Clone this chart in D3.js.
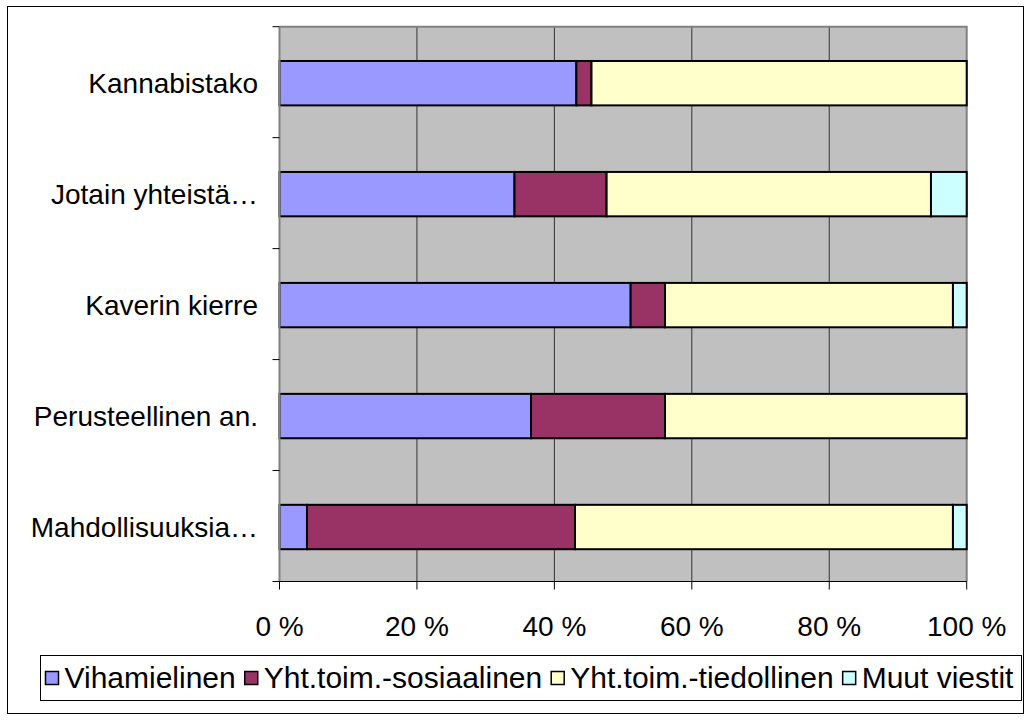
<!DOCTYPE html>
<html>
<head>
<meta charset="utf-8">
<script src="https://cdn.jsdelivr.net/npm/d3@7"></script>
<style>
  html, body { margin: 0; padding: 0; background: #fff; }
  svg { display: block; font-family: "Liberation Sans", Arial, sans-serif; }
</style>
</head>
<body>
<svg id="chart" width="1032" height="720"></svg>
<script>
const categories = ["Kannabistako", "Jotain yhteistä…", "Kaverin kierre", "Perusteellinen an.", "Mahdollisuuksia…"];
const seriesNames = ["Vihamielinen", "Yht.toim.-sosiaalinen", "Yht.toim.-tiedollinen", "Muut viestit"];
const vihamielinen = [43.2, 34.2, 51.1, 36.6, 4.0];
const sosiaalinen  = [2.2, 13.4, 5.0, 19.5, 39.0];
const tiedollinen  = [54.6, 47.2, 41.9, 43.9, 55.0];
const muut         = [0.0, 5.2, 2.0, 0.0, 2.0];
const xTicks = [0, 20, 40, 60, 80, 100];
const colors = ["#9999ff", "#993366", "#ffffcc", "#ccffff"];

const seriesValues = [vihamielinen, sosiaalinen, tiedollinen, muut];
const rows = categories.map((c, i) => {
  const r = { cat: c };
  seriesNames.forEach((s, j) => r[s] = seriesValues[j][i]);
  return r;
});

const svg = d3.select("#chart");

// outer frame
svg.append("rect").attr("x", 7.5).attr("y", 6.5).attr("width", 1016).attr("height", 707)
  .attr("fill", "#fff").attr("stroke", "#000").attr("stroke-width", 1);

const L = 279.5, R = 966.7, T = 26.7, B = 581.5;
const x = d3.scaleLinear().domain([0, 100]).range([L, R]);
const y = d3.scaleBand().domain(categories).range([T, B]).paddingInner(0.6).paddingOuter(0.3);

// plot background
svg.append("rect").attr("x", L).attr("y", T).attr("width", R - L).attr("height", B - T)
  .attr("fill", "#c0c0c0");

// gridlines
svg.append("g").selectAll("line").data(xTicks.filter(t => t > 0 && t < 100)).join("line")
  .attr("x1", d => x(d)).attr("x2", d => x(d)).attr("y1", T).attr("y2", B)
  .attr("stroke", "#333").attr("stroke-width", 1);

// plot border top/right
svg.append("path").attr("d", `M${L},${T}H${R}V${B}`).attr("fill", "none")
  .attr("stroke", "#808080").attr("stroke-width", 2);

// stacked bars
const stack = d3.stack().keys(seriesNames)(rows);
svg.append("g").selectAll("g").data(stack).join("g")
  .attr("fill", (d, i) => colors[i])
  .selectAll("rect").data(d => d.filter(p => p[1] - p[0] > 0)).join("rect")
  .attr("x", d => x(d[0])).attr("width", d => x(d[1]) - x(d[0]))
  .attr("y", d => y(d.data.cat) + 1).attr("height", y.bandwidth())
  .attr("stroke", "#000").attr("stroke-width", 2);

// y axis
const step = y.step();
const yBounds = d3.range(categories.length + 1).map(i => T + i * step);
svg.append("line").attr("x1", L).attr("x2", L).attr("y1", T).attr("y2", B)
  .attr("stroke", "#808080").attr("stroke-width", 2);
svg.append("g").selectAll("line").data(yBounds).join("line")
  .attr("x1", L - 7).attr("x2", L).attr("y1", d => d).attr("y2", d => d)
  .attr("stroke", "#000").attr("stroke-width", 1);
svg.append("g").selectAll("text").data(categories).join("text")
  .attr("x", 258).attr("y", d => y(d) + 1 + y.bandwidth() / 2)
  .attr("text-anchor", "end").attr("dominant-baseline", "central")
  .attr("font-size", 28).attr("fill", "#000").text(d => d);

// x axis
svg.append("line").attr("x1", L).attr("x2", R).attr("y1", B).attr("y2", B)
  .attr("stroke", "#000").attr("stroke-width", 1);
svg.append("g").selectAll("line").data(xTicks).join("line")
  .attr("x1", d => x(d)).attr("x2", d => x(d)).attr("y1", B).attr("y2", B + 8)
  .attr("stroke", "#000").attr("stroke-width", 1);
svg.append("g").selectAll("text").data(xTicks).join("text")
  .attr("x", d => x(d)).attr("y", 636)
  .attr("text-anchor", "middle").attr("font-size", 28).attr("fill", "#000")
  .text(d => d + " %");

// legend
const lg = svg.append("g");
lg.append("rect").attr("x", 40.5).attr("y", 655.5).attr("width", 981).attr("height", 45)
  .attr("fill", "#fff").attr("stroke", "#000").attr("stroke-width", 1);
let lx = 45.5;
seriesNames.forEach((s, i) => {
  lg.append("rect").attr("x", lx).attr("y", 671.5).attr("width", 13).attr("height", 13)
    .attr("fill", colors[i]).attr("stroke", "#000").attr("stroke-width", 1.5);
  const t = lg.append("text").attr("x", lx + 19).attr("y", 688)
    .attr("font-size", 30).attr("fill", "#000").text(s);
  lx += 19 + t.node().getComputedTextLength() + 9;
});
</script>
</body>
</html>
